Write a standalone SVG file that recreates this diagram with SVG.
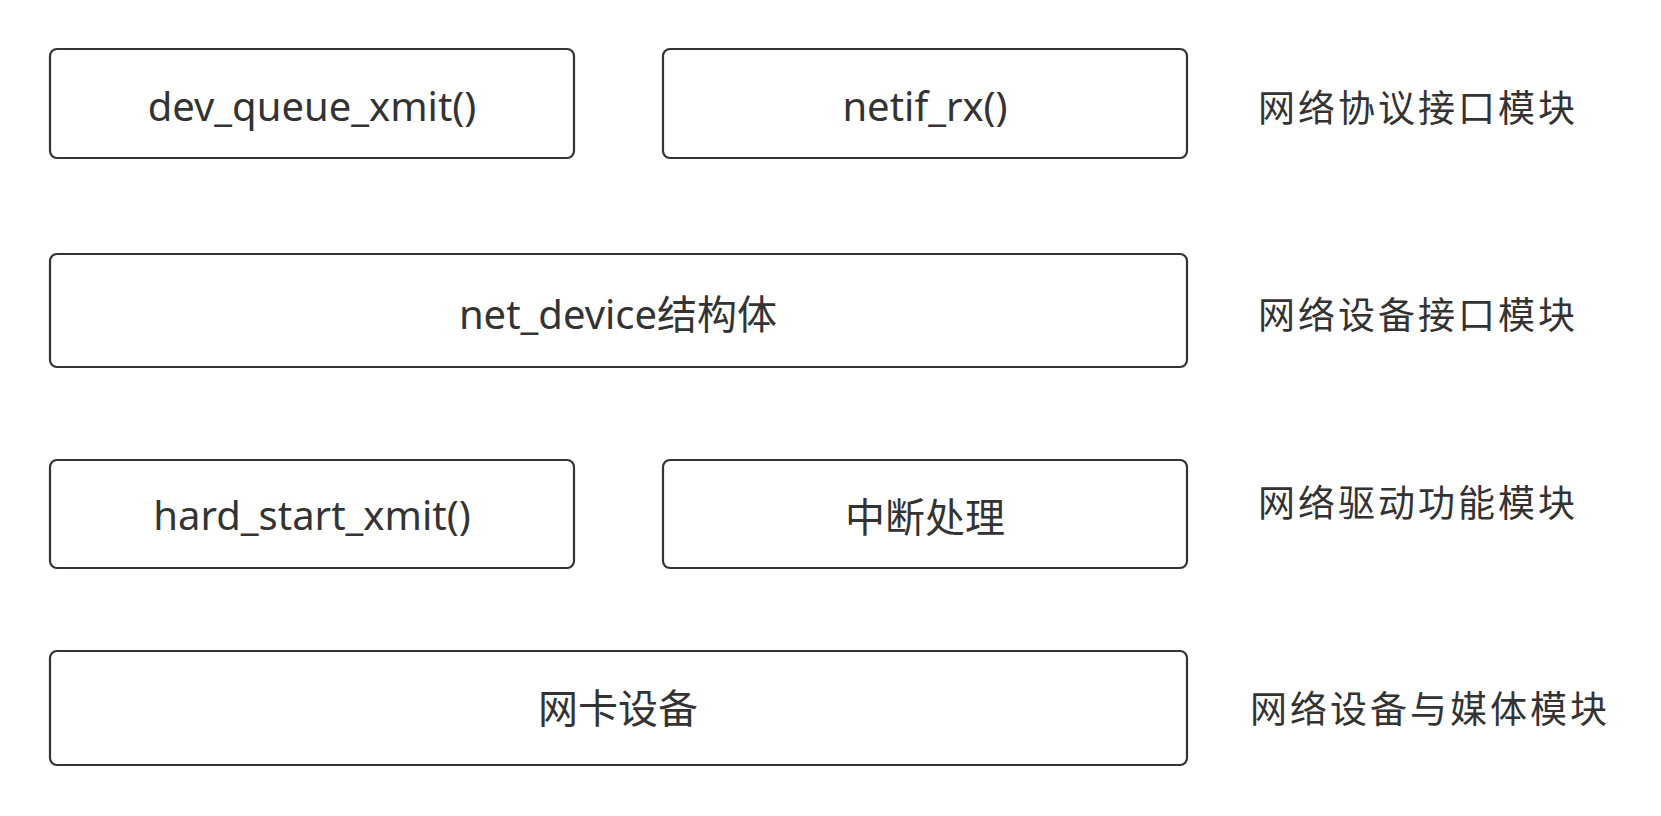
<svg xmlns="http://www.w3.org/2000/svg" width="1661" height="816" viewBox="0 0 1661 816">
<style>
.box{fill:#ffffff;stroke:#333333;stroke-width:2.2}
.t{font-family:"Noto Sans","Noto Sans CJK SC",sans-serif;font-size:40px;fill:#333333;text-anchor:middle;dominant-baseline:central}
.l{font-family:"Noto Sans CJK SC",sans-serif;font-size:37px;letter-spacing:3px;fill:#333333;dominant-baseline:central}
</style>
<rect width="1661" height="816" fill="#ffffff"/>
<g id="connectors"></g>
<g id="dev_queue_xmit"><rect class="box" x="50" y="49" width="524" height="109" rx="7"/><text class="t" x="312" y="105">dev_queue_xmit()</text></g>
<g id="netif_rx"><rect class="box" x="663" y="49" width="524" height="109" rx="7"/><text class="t" x="925" y="105">netif_rx()</text></g>
<g id="label_protocol"><text class="l" x="1258" y="106">网络协议接口模块</text></g>
<g id="net_device"><rect class="box" x="50" y="254" width="1137" height="113" rx="7"/><text class="t" x="618" y="313">net_device结构体</text></g>
<g id="label_device_if"><text class="l" x="1258" y="313">网络设备接口模块</text></g>
<g id="hard_start_xmit"><rect class="box" x="50" y="460" width="524" height="108" rx="7"/><text class="t" x="312" y="514">hard_start_xmit()</text></g>
<g id="irq"><rect class="box" x="663" y="460" width="524" height="108" rx="7"/><text class="t" x="925" y="516">中断处理</text></g>
<g id="label_driver"><text class="l" x="1258" y="501">网络驱动功能模块</text></g>
<g id="nic"><rect class="box" x="50" y="651" width="1137" height="114" rx="7"/><text class="t" x="618" y="707">网卡设备</text></g>
<g id="label_media"><text class="l" x="1250" y="707">网络设备与媒体模块</text></g>
</svg>
